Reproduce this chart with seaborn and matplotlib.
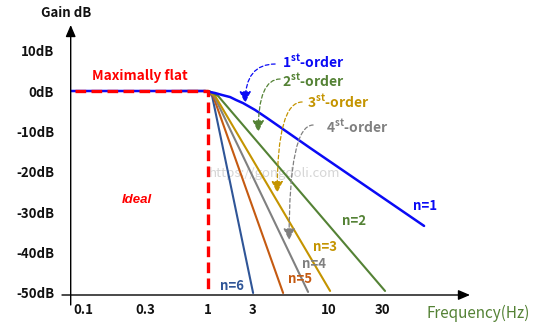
import numpy as np
import pandas as pd
import matplotlib
matplotlib.use("Agg")
import matplotlib.pyplot as plt
import seaborn as sns

# ---------------- data ----------------
freq_n1 = [0.0802, 0.944, 1.191, 1.418, 1.732, 2.012, 2.396, 3.145, 3.793, 7.43, 71.7]
gain_n1 = [0, 0, -0.5, -0.99, -1.5, -2.23, -3.0, -4.7, -6.7, -14.1, -33.4]
freq_n2 = [0.586, 1.025, 1.284, 31.9]
gain_n2 = [0, 0, -1.24, -49.5]
freq_n3 = [0.586, 1.0, 1.191, 10.21]
gain_n3 = [0, 0, -1.24, -49.5]
freq_n4 = [0.586, 1.0, 1.162, 7.2]
gain_n4 = [0, 0, -1.24, -49.75]
freq_n5 = [0.586, 1.0, 1.133, 4.871]
gain_n5 = [0, 0, -1.24, -50]
freq_n6 = [0.586, 1.0, 1.105, 3.047]
gain_n6 = [0, 0, -1.24, -50]
ideal_freq = [0.0868, 1.0, 1.0]
ideal_gain = [0, 0, -50]

x_ticks = [0.1, 0.3, 1, 3, 10, 30]
x_tick_labels = ["0.1", "0.3", "1", "3", "10", "30"]
y_ticks = [10, 0, -10, -20, -30, -40, -50]
y_tick_labels = ["10dB", "0dB", "-10dB", "-20dB", "-30dB", "-40dB", "-50dB"]

series_names = ["n=1", "n=2", "n=3", "n=4", "n=5", "n=6"]
series_colors = ["#0a0af5", "#548235", "#c49400", "#808080", "#c55a11", "#2f5597"]

# hand-drawn frequency axis: nonuniform spacing between labelled decades
scale_log = [-2.0, -1.0, np.log10(0.3), 0.0, np.log10(3), 1.0, np.log10(30), 3.0]
scale_pos = [-47.0, 83.0, 145.0, 208.0, 252.0, 329.0, 382.0, 551.0]


def fwd(f):
    f = np.clip(np.asarray(f, dtype=float), 1e-6, None)
    return np.interp(np.log10(f), scale_log, scale_pos)


def inv(p):
    return 10 ** np.interp(np.asarray(p, dtype=float), scale_pos, scale_log)


# ---------------- style ----------------
sns.set_style("white")
plt.rcParams["font.family"] = ["Noto Sans CJK KR", "DejaVu Sans"]
plt.rcParams["mathtext.fontset"] = "custom"
plt.rcParams["mathtext.rm"] = "Noto Sans CJK KR"
plt.rcParams["mathtext.bf"] = "Noto Sans CJK KR:bold"

fig = plt.figure(figsize=(5.33, 3.32), dpi=100)
ax = fig.add_axes([70.7 / 533, 37 / 332, 399.3 / 533, 270 / 332])
ax.set_xscale("function", functions=(fwd, inv))
ax.set_xlim(0.0802, 186)
ax.set_ylim(-50.5, 16.34)

frames = []
for name, fr, g in zip(series_names,
                       [freq_n1, freq_n2, freq_n3, freq_n4, freq_n5, freq_n6],
                       [gain_n1, gain_n2, gain_n3, gain_n4, gain_n5, gain_n6]):
    frames.append(pd.DataFrame({"freq": fr, "gain": g, "order": name}))
df = pd.concat(frames, ignore_index=True)

# draw higher orders first, n=1 on top
for name, color in reversed(list(zip(series_names, series_colors))):
    sub = df[df["order"] == name]
    sns.lineplot(data=sub, x="freq", y="gain", sort=False, estimator=None,
                 color=color, lw=1.8 if name == "n=1" else 1.5, ax=ax,
                 legend=False, zorder=3)

ideal_df = pd.DataFrame({"freq": ideal_freq, "gain": ideal_gain})
sns.lineplot(data=ideal_df, x="freq", y="gain", sort=False, estimator=None,
             color="#ff0000", lw=2.4, ax=ax, legend=False, zorder=5,
             dashes=False, linestyle=(0, (3.2, 1.6)))

# ---------------- axes decoration ----------------
for s in ax.spines.values():
    s.set_visible(False)
ax.set_xlabel("")
ax.set_ylabel("")
ax.set_xticks(x_ticks, x_tick_labels)
ax.set_yticks(y_ticks, y_tick_labels)
ax.tick_params(axis="both", length=0, labelsize=9.5, colors="#111111")
ax.tick_params(axis="x", pad=6)
ax.tick_params(axis="y", pad=12)
for lab in ax.get_xticklabels() + ax.get_yticklabels():
    lab.set_fontweight("bold")
ax.grid(False)

arrow_kw = dict(arrowstyle="-|>,head_length=0.7,head_width=0.3", color="black",
                lw=1.0, shrinkA=0, shrinkB=0, mutation_scale=10)
ax.annotate("", xy=(1.0, 0.0), xytext=(-0.0218, 0.0), xycoords="axes fraction",
            textcoords="axes fraction", arrowprops=arrow_kw, annotation_clip=False)
ax.annotate("", xy=(0.0, 1.0), xytext=(0.0, -0.037), xycoords="axes fraction",
            textcoords="axes fraction", arrowprops=arrow_kw, annotation_clip=False)

ax.text(-0.012, 1.044, "Gain dB", transform=ax.transAxes, ha="center", va="center",
        fontsize=9.5, fontweight="bold", color="#111111")
ax.text(0.892, -0.0667, "Frequency(Hz)", transform=ax.transAxes, ha="left",
        va="center", fontsize=11, color="#548235", clip_on=False)

# ---------------- annotations ----------------
ax.text(0.1173, 3.71, "Maximally flat", color="#ff0000", fontsize=9.8,
        fontweight="bold", ha="left", va="center")
ax.text(0.2603, -27.0, "Ideal", color="#ff0000", fontsize=9.5, fontweight="bold",
        fontstyle="italic", family="Liberation Sans", ha="center", va="center")
ax.text(1.02, -20.3, "https://gongdoli.com", color="#d6d6d6", fontsize=9.5,
        ha="left", va="center", zorder=1)

label_pos = [(73.1, -28.5), (16.8, -32.2), (9.39, -38.6), (7.91, -42.8),
             (6.36, -46.5), (1.82, -48.3)]
for name, color, (lx, ly) in zip(series_names, series_colors, label_pos):
    ax.text(lx, ly, name, color=color, fontsize=9.5, fontweight="bold",
            ha="center", va="center", zorder=6)

order_texts = ["1", "2", "3", "4"]
order_pos = [(4.80, 7.18), (4.80, 2.48), (7.09, -2.72), (9.54, -8.91)]
order_colors = ["#0a0af5", "#548235", "#c49400", "#808080"]
arrow_start = [(4.30, 6.68), (4.65, 2.97), (6.56, -2.72), (7.79, -8.42)]
arrow_tip = [(2.52, -2.97), (3.30, -10.15), (4.44, -25.2), (5.35, -36.9)]
for t, (tx, ty), c, st, tp in zip(order_texts, order_pos, order_colors,
                                  arrow_start, arrow_tip):
    ax.text(tx, ty, t + r"$^{\mathbf{st}}$" + "-order", color=c, fontsize=10,
            fontweight="bold", ha="left", va="center", zorder=6)
    ax.annotate("", xy=tp, xytext=st,
                arrowprops=dict(arrowstyle="-|>,head_length=0.7,head_width=0.35",
                                color=c, lw=0.9, linestyle=(0, (3, 2)),
                                shrinkA=0, shrinkB=0, mutation_scale=10,
                                connectionstyle="angle3,angleA=180,angleB=90"),
                zorder=7)

fig.savefig("out.png", dpi=100)
